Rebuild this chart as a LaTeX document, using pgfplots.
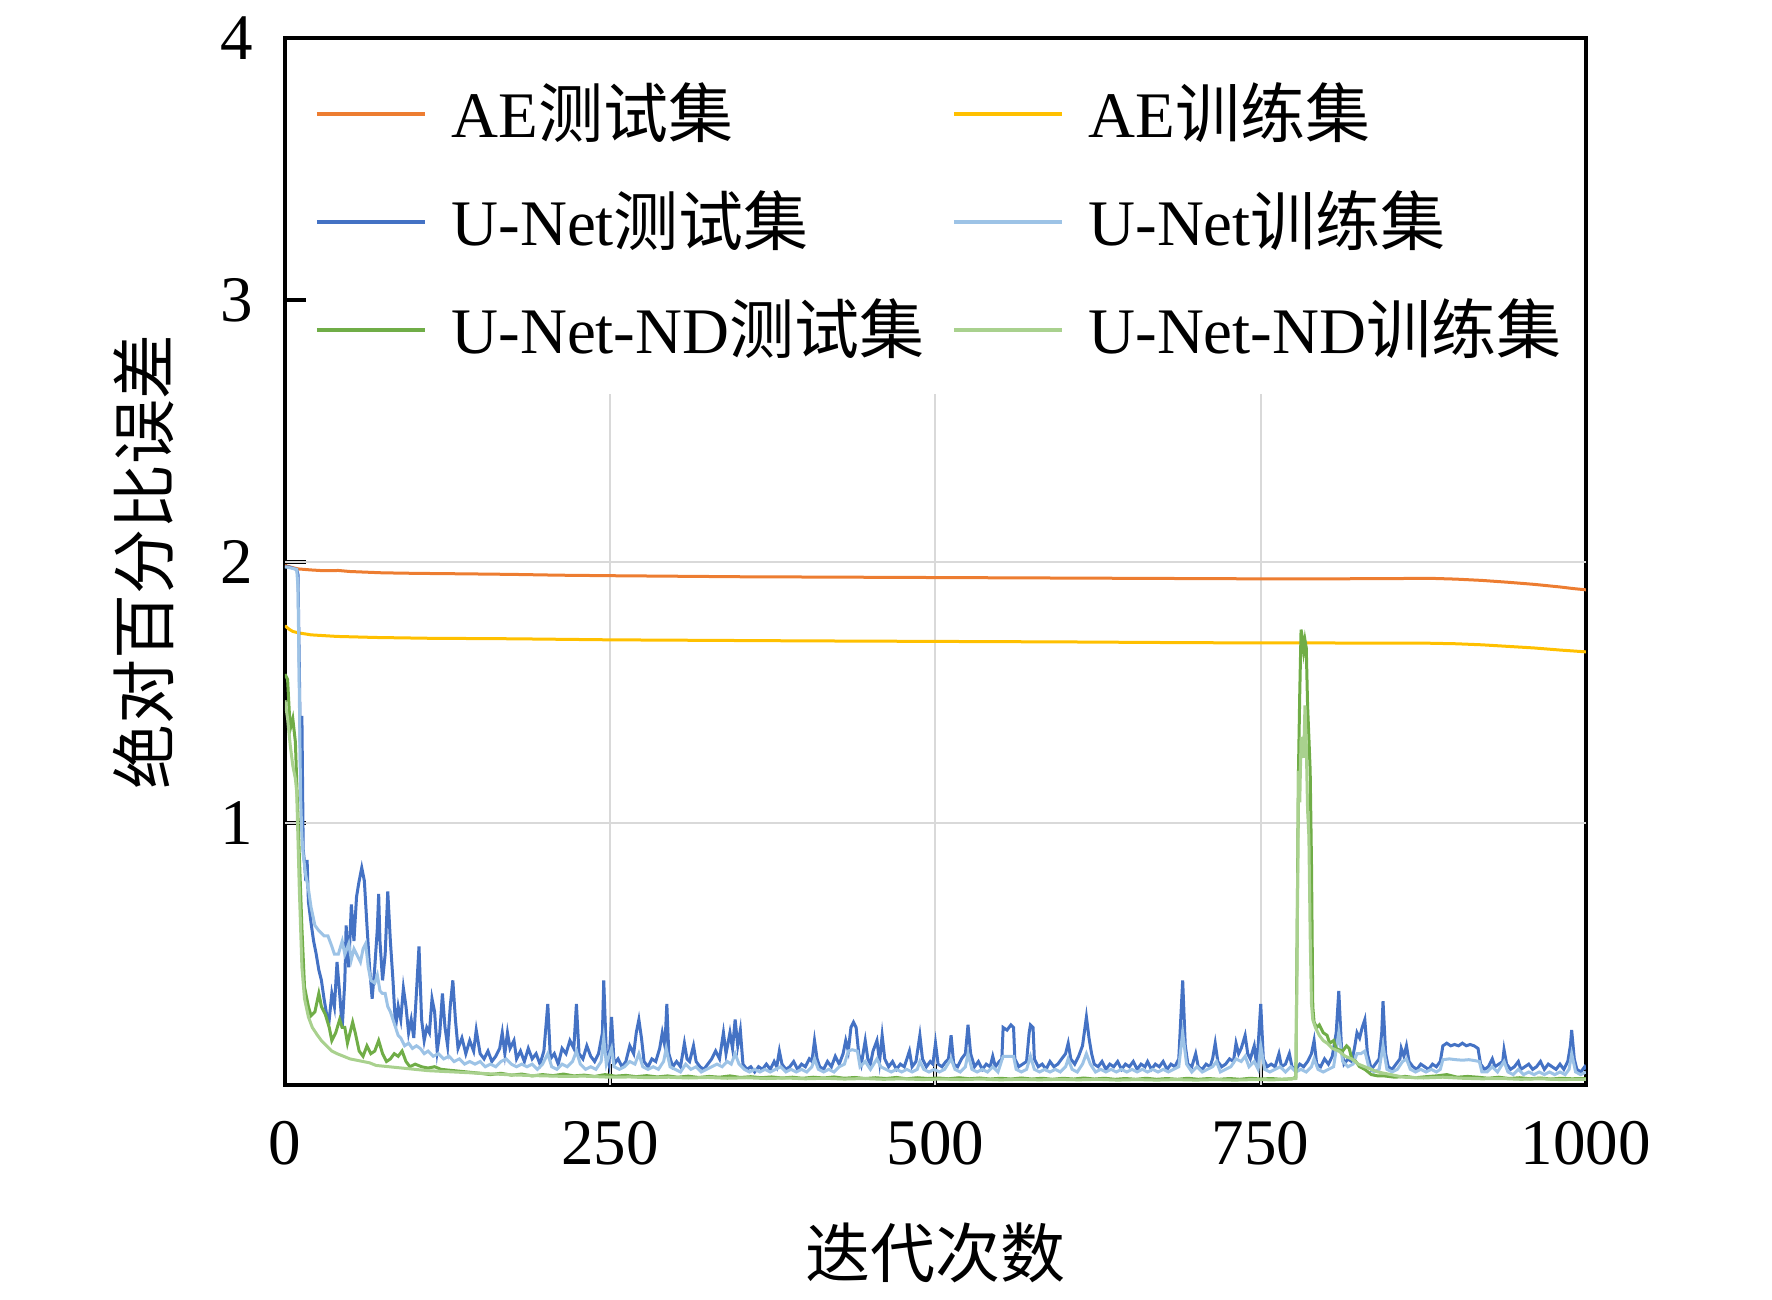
\documentclass[border=0pt]{standalone}
\usepackage{fontspec}
\setmainfont{Liberation Serif}
\newfontfamily\cjk{Noto Sans CJK SC}
\usepackage{pgfplots}
\pgfplotsset{compat=1.18}
\definecolor{cAEte}{HTML}{ED7D31}
\definecolor{cAEtr}{HTML}{FFC000}
\definecolor{cUte}{HTML}{4472C4}
\definecolor{cUtr}{HTML}{9DC3E6}
\definecolor{cNte}{HTML}{70AD47}
\definecolor{cNtr}{HTML}{A9D18E}
\definecolor{gridc}{HTML}{D9D9D9}
\newcommand\zh[1]{{\cjk #1}}
\begin{document}
\begin{tikzpicture}
\path (-57pt,-42.6pt) rectangle (297.4pt,216.4pt);
\begin{axis}[
  at={(0pt,0pt)}, anchor=south west,
  scale only axis, width=260.2pt, height=209.4pt,
  xmin=0, xmax=1000, ymin=0, ymax=4,
  xtick={0,250,500,750,1000}, ytick={1,2,3,4},
  tick align=inside, tick pos=left,
  major tick length=4.2pt,
  axis line style={line width=0.8pt},
  every tick/.style={black, line width=0.8pt},
  tick label style={font=\fontsize{13}{15}\selectfont},
  /pgf/number format/assume math mode=true,
  /pgf/number format/1000 sep={},
  xticklabel style={anchor=base, yshift=-15.8pt},
  yticklabel style={anchor=east, xshift=-2.9pt},
  xlabel={\zh{迭代次数}}, ylabel={\zh{绝对百分比误差}},
  label style={font=\fontsize{13}{15}\selectfont},
  xlabel style={at={(axis description cs:0.5,-0.1605)}, anchor=center},
  ylabel style={at={(axis description cs:-0.1084,0.5)}, anchor=center},
  legend columns=2, legend cell align=left,
  legend style={at={(axis description cs:0.0223,0.968)}, anchor=north west,
    draw=none, fill=none, inner sep=0pt, row sep=5.1pt,
    font=\fontsize{13}{15}\selectfont,
    /tikz/every odd column/.append style={column sep=2.9pt},
    /tikz/every even column/.append style={column sep=3.5pt}},
  legend image code/.code={\draw[#1, line width=0.8pt] (0pt,0pt) -- (21.6pt,0pt);},
  every axis plot/.append style={line width=0.6pt},
]
\draw[gridc, line width=0.4pt] (axis cs:0,1) -- (axis cs:1000,1);
\draw[gridc, line width=0.4pt] (axis cs:0,2) -- (axis cs:1000,2);
\draw[gridc, line width=0.4pt] (axis cs:250,0) -- (axis cs:250,2.64);
\draw[gridc, line width=0.4pt] (axis cs:500,0) -- (axis cs:500,2.64);
\draw[gridc, line width=0.4pt] (axis cs:750,0) -- (axis cs:750,2.64);

% AE test
\addplot[cAEte] coordinates {(0,1.985)(5,1.978)(10,1.972)(20,1.968)(30,1.965)(41,1.966)(50,1.962)(75,1.957)(100,1.955)(140,1.953)(175,1.951)(210,1.948)(250,1.946)(300,1.944)(350,1.942)(400,1.941)(450,1.940)(500,1.939)(550,1.938)(600,1.937)(650,1.936)(700,1.935)(750,1.934)(800,1.934)(850,1.935)(880,1.936)(900,1.933)(920,1.928)(940,1.921)(960,1.913)(980,1.903)(990,1.897)(1000,1.892)};
\addlegendentry{AE\zh{测试集}}
% AE train
\addplot[cAEtr] coordinates {(0,1.755)(3,1.742)(6,1.733)(10,1.728)(20,1.72)(40,1.714)(70,1.71)(110,1.707)(175,1.705)(250,1.701)(400,1.697)(500,1.695)(600,1.693)(700,1.690)(800,1.689)(880,1.688)(900,1.686)(920,1.682)(940,1.676)(960,1.670)(980,1.662)(1000,1.655)};
\addlegendentry{AE\zh{训练集}}
% U-Net test
\addplot[cUte] coordinates {(0,1.98)(3,1.98)(6,1.975)(9,1.97)(10,1.95)(11,1.6)(12,1.2)(13,1.41)(14,0.9)(15,0.85)(16,0.78)(17,0.86)(18,0.7)(20,0.62)(22,0.55)(24,0.5)(26,0.44)(28,0.40)(30,0.33)(32,0.27)(34,0.25)(36,0.35)(38,0.30)(40,0.47)(42,0.35)(44,0.22)(46,0.40)(47,0.61)(49,0.45)(51,0.69)(53,0.55)(55,0.72)(57,0.78)(59,0.83)(61,0.78)(63,0.61)(65,0.45)(67,0.33)(69,0.45)(71,0.60)(72,0.73)(73,0.55)(75,0.40)(77,0.50)(79,0.74)(81,0.55)(83,0.40)(85,0.22)(87,0.30)(89,0.25)(91,0.37)(93,0.30)(95,0.20)(97,0.25)(99,0.18)(101,0.35)(103,0.53)(105,0.25)(107,0.17)(109,0.22)(111,0.20)(113,0.33)(115,0.28)(117,0.13)(119,0.20)(121,0.35)(123,0.22)(125,0.15)(127,0.30)(129,0.40)(131,0.25)(133,0.14)(136,0.18)(139,0.12)(142,0.17)(145,0.13)(147,0.21)(150,0.12)(153,0.10)(156,0.13)(159,0.09)(162,0.11)(165,0.14)(167,0.20)(169,0.12)(171,0.20)(173,0.14)(176,0.17)(178,0.10)(181,0.13)(184,0.09)(187,0.14)(190,0.10)(193,0.12)(196,0.08)(199,0.13)(202,0.31)(204,0.10)(207,0.12)(210,0.08)(213,0.14)(216,0.12)(219,0.17)(222,0.14)(224,0.31)(226,0.12)(229,0.10)(232,0.15)(235,0.11)(238,0.09)(241,0.12)(244,0.20)(245,0.40)(247,0.12)(249,0.08)(251,0.26)(253,0.08)(256,0.10)(259,0.07)(262,0.09)(265,0.15)(268,0.12)(270,0.20)(272,0.25)(274,0.18)(276,0.09)(279,0.07)(282,0.10)(285,0.09)(288,0.14)(290,0.20)(292,0.15)(293.5,0.31)(295,0.12)(298,0.07)(301,0.09)(304,0.07)(307,0.16)(309,0.10)(311,0.09)(314,0.15)(316,0.09)(319,0.07)(322,0.06)(325,0.08)(328,0.10)(331,0.13)(334,0.10)(337,0.20)(339,0.12)(342,0.20)(344,0.14)(346,0.25)(348,0.15)(350,0.21)(352,0.08)(355,0.06)(358,0.07)(361,0.05)(364,0.07)(367,0.06)(370,0.08)(373,0.06)(376,0.09)(378,0.07)(380,0.13)(382,0.08)(385,0.06)(388,0.07)(391,0.09)(394,0.06)(397,0.08)(400,0.07)(403,0.10)(405,0.09)(407,0.17)(409,0.10)(411,0.07)(414,0.06)(417,0.09)(420,0.07)(423,0.11)(426,0.08)(429,0.12)(431,0.17)(433,0.13)(435,0.22)(437,0.24)(439,0.22)(441,0.12)(443,0.08)(446,0.17)(448,0.10)(450,0.08)(452,0.13)(455,0.17)(457,0.09)(459,0.19)(461,0.10)(464,0.07)(467,0.09)(470,0.06)(473,0.08)(476,0.07)(478,0.10)(480,0.13)(482,0.07)(485,0.09)(488,0.19)(490,0.10)(493,0.07)(496,0.09)(498,0.08)(500,0.16)(502,0.08)(505,0.07)(508,0.09)(510,0.10)(512,0.19)(514,0.08)(517,0.07)(520,0.10)(523,0.12)(525,0.23)(527,0.12)(530,0.07)(533,0.09)(536,0.06)(539,0.08)(542,0.07)(544,0.11)(546,0.07)(549,0.09)(551,0.10)(552,0.22)(555,0.21)(558,0.23)(560,0.22)(561,0.10)(564,0.07)(567,0.08)(570,0.09)(572,0.20)(573,0.23)(575,0.22)(576,0.10)(579,0.07)(582,0.08)(585,0.06)(588,0.09)(591,0.07)(594,0.08)(597,0.10)(600,0.12)(602,0.16)(604,0.10)(607,0.08)(610,0.11)(613,0.15)(616,0.26)(618,0.18)(620,0.12)(622,0.08)(625,0.07)(628,0.09)(631,0.06)(634,0.08)(637,0.07)(640,0.09)(643,0.06)(646,0.08)(649,0.07)(652,0.09)(655,0.06)(658,0.08)(661,0.07)(663,0.09)(666,0.06)(669,0.08)(672,0.07)(675,0.09)(678,0.06)(681,0.08)(684,0.07)(687,0.10)(690,0.40)(692,0.15)(694,0.08)(697,0.07)(700,0.12)(702,0.07)(705,0.06)(708,0.08)(711,0.07)(713,0.10)(715,0.16)(717,0.09)(720,0.07)(723,0.08)(726,0.10)(729,0.09)(731,0.16)(733,0.12)(735,0.14)(738,0.19)(740,0.12)(742,0.10)(745,0.15)(747,0.07)(750,0.31)(752,0.10)(755,0.07)(758,0.08)(761,0.07)(764,0.12)(766,0.07)(769,0.08)(772,0.12)(774,0.07)(777,0.06)(780,0.08)(783,0.07)(786,0.09)(789,0.12)(791,0.17)(793,0.08)(796,0.07)(799,0.10)(802,0.08)(805,0.11)(808,0.20)(810,0.36)(812,0.15)(814,0.08)(817,0.10)(820,0.09)(822,0.14)(824,0.20)(826,0.18)(828,0.22)(830,0.25)(832,0.12)(835,0.06)(838,0.08)(841,0.10)(843,0.20)(844,0.32)(846,0.12)(848,0.07)(851,0.06)(854,0.08)(857,0.10)(858,0.14)(860,0.11)(862,0.15)(864,0.09)(867,0.07)(870,0.06)(873,0.08)(876,0.07)(879,0.06)(882,0.08)(885,0.07)(888,0.09)(890,0.15)(893,0.16)(896,0.15)(899,0.155)(902,0.15)(905,0.16)(908,0.15)(911,0.155)(914,0.15)(917,0.14)(919,0.08)(922,0.06)(925,0.07)(928,0.10)(930,0.07)(933,0.08)(936,0.09)(937,0.135)(939,0.08)(942,0.06)(945,0.07)(948,0.09)(950,0.06)(953,0.07)(956,0.08)(959,0.06)(962,0.07)(965,0.09)(968,0.06)(971,0.08)(974,0.07)(977,0.06)(980,0.08)(983,0.06)(986,0.09)(988,0.15)(989,0.21)(991,0.10)(993,0.06)(996,0.05)(999,0.07)(1000,0.06)};
\addlegendentry{U-Net\zh{测试集}}
% U-Net train
\addplot[cUtr] coordinates {(0,1.98)(5,1.975)(9,1.97)(10,1.9)(11,1.5)(12,1.1)(13,0.95)(14,0.88)(16,0.80)(18,0.75)(20,0.68)(23,0.61)(26,0.59)(30,0.57)(33,0.57)(36,0.53)(38,0.50)(41,0.50)(44,0.55)(46,0.50)(49,0.54)(51,0.48)(53,0.52)(55,0.50)(58,0.47)(60,0.52)(62,0.54)(64,0.45)(66,0.40)(69,0.39)(71,0.42)(73,0.36)(75,0.35)(77,0.35)(79,0.30)(81,0.28)(83,0.25)(85,0.22)(87,0.19)(89,0.18)(92,0.15)(95,0.16)(98,0.14)(101,0.15)(104,0.14)(107,0.12)(110,0.13)(114,0.11)(118,0.12)(122,0.10)(126,0.11)(130,0.09)(134,0.10)(138,0.08)(142,0.09)(146,0.08)(150,0.09)(154,0.07)(158,0.08)(162,0.07)(166,0.09)(170,0.10)(174,0.08)(178,0.07)(182,0.08)(186,0.07)(190,0.08)(194,0.06)(198,0.08)(202,0.12)(205,0.07)(209,0.06)(213,0.08)(217,0.07)(221,0.09)(224,0.13)(227,0.08)(231,0.06)(235,0.07)(239,0.06)(243,0.09)(245,0.18)(247,0.08)(251,0.14)(253,0.07)(257,0.06)(261,0.07)(265,0.09)(269,0.08)(272,0.12)(275,0.07)(279,0.06)(283,0.07)(287,0.06)(291,0.09)(293,0.14)(296,0.07)(300,0.06)(304,0.05)(308,0.08)(312,0.06)(316,0.07)(320,0.05)(324,0.06)(328,0.07)(332,0.08)(336,0.07)(340,0.09)(343,0.08)(346,0.12)(349,0.08)(353,0.06)(357,0.05)(361,0.06)(365,0.05)(369,0.06)(373,0.05)(377,0.06)(381,0.07)(385,0.05)(389,0.06)(393,0.05)(397,0.06)(401,0.05)(405,0.07)(407,0.10)(410,0.06)(414,0.05)(418,0.06)(422,0.05)(426,0.07)(430,0.08)(433,0.13)(436,0.135)(440,0.13)(442,0.07)(446,0.09)(450,0.06)(455,0.10)(458,0.07)(462,0.06)(466,0.05)(470,0.06)(474,0.05)(478,0.06)(482,0.05)(486,0.06)(488,0.09)(491,0.06)(495,0.05)(499,0.06)(503,0.05)(507,0.06)(512,0.10)(515,0.06)(519,0.05)(523,0.07)(525,0.12)(528,0.06)(532,0.05)(536,0.06)(540,0.05)(544,0.07)(548,0.05)(552,0.11)(556,0.11)(560,0.11)(562,0.06)(566,0.05)(570,0.06)(573,0.11)(576,0.06)(580,0.05)(584,0.06)(588,0.05)(592,0.06)(596,0.05)(600,0.07)(602,0.10)(605,0.06)(609,0.05)(613,0.08)(616,0.12)(619,0.08)(623,0.05)(627,0.06)(631,0.05)(635,0.06)(639,0.05)(643,0.06)(647,0.05)(651,0.06)(655,0.05)(659,0.06)(663,0.05)(667,0.06)(671,0.05)(675,0.06)(679,0.05)(683,0.06)(687,0.07)(690,0.20)(693,0.08)(697,0.05)(701,0.07)(705,0.05)(709,0.06)(713,0.07)(716,0.09)(719,0.05)(723,0.06)(727,0.07)(731,0.10)(735,0.09)(738,0.11)(741,0.07)(745,0.09)(748,0.06)(750,0.15)(753,0.06)(757,0.05)(761,0.06)(765,0.07)(769,0.05)(773,0.07)(777,0.05)(781,0.06)(785,0.05)(789,0.07)(791,0.10)(794,0.06)(798,0.05)(802,0.06)(806,0.07)(810,0.20)(813,0.09)(817,0.07)(821,0.08)(824,0.12)(827,0.12)(830,0.13)(833,0.07)(837,0.05)(841,0.06)(844,0.15)(847,0.06)(851,0.05)(855,0.06)(859,0.09)(862,0.10)(865,0.06)(869,0.05)(873,0.06)(877,0.05)(881,0.06)(885,0.05)(888,0.06)(890,0.097)(895,0.10)(900,0.097)(905,0.095)(910,0.097)(915,0.093)(918,0.09)(920,0.05)(924,0.05)(928,0.07)(932,0.05)(937,0.09)(940,0.05)(944,0.04)(948,0.06)(952,0.04)(956,0.05)(960,0.04)(964,0.05)(968,0.04)(972,0.05)(976,0.04)(980,0.05)(984,0.04)(987,0.06)(989,0.12)(992,0.05)(996,0.04)(1000,0.05)};
\addlegendentry{U-Net\zh{训练集}}
% U-Net-ND test
\addplot[cNte] coordinates {(0,1.57)(2,1.55)(4,1.36)(6,1.40)(8,1.31)(9,1.16)(11,0.88)(13,0.6)(15,0.375)(18,0.30)(20,0.265)(23,0.28)(26,0.35)(28,0.30)(31,0.27)(34,0.22)(36,0.17)(39,0.20)(42,0.25)(44,0.22)(46,0.22)(48,0.16)(50,0.20)(52,0.24)(54,0.20)(57,0.13)(60,0.11)(63,0.15)(66,0.12)(69,0.13)(72,0.17)(75,0.12)(78,0.09)(81,0.10)(84,0.12)(87,0.11)(90,0.13)(93,0.09)(96,0.07)(100,0.08)(105,0.07)(110,0.065)(115,0.07)(120,0.06)(130,0.055)(140,0.05)(150,0.045)(158,0.04)(166,0.045)(174,0.038)(182,0.042)(190,0.035)(198,0.04)(206,0.036)(214,0.042)(222,0.035)(230,0.038)(238,0.033)(246,0.04)(254,0.034)(262,0.037)(270,0.032)(278,0.036)(286,0.031)(294,0.035)(302,0.03)(310,0.034)(318,0.029)(326,0.033)(334,0.03)(342,0.035)(350,0.029)(358,0.032)(366,0.028)(374,0.031)(382,0.027)(390,0.03)(398,0.026)(406,0.03)(414,0.027)(422,0.031)(430,0.026)(438,0.029)(446,0.025)(454,0.028)(462,0.025)(470,0.029)(478,0.024)(486,0.028)(494,0.025)(502,0.027)(510,0.024)(518,0.028)(526,0.024)(534,0.027)(542,0.023)(550,0.026)(558,0.023)(566,0.027)(574,0.023)(582,0.026)(590,0.022)(598,0.026)(606,0.023)(614,0.027)(622,0.023)(630,0.026)(638,0.022)(646,0.025)(654,0.022)(662,0.026)(670,0.022)(678,0.025)(686,0.022)(694,0.026)(702,0.022)(710,0.025)(718,0.022)(726,0.025)(734,0.022)(742,0.026)(750,0.023)(758,0.025)(766,0.022)(774,0.024)(777,0.03)(778,0.6)(779,1.2)(780,1.5)(781,1.74)(782,1.71)(783,1.66)(784,1.70)(785,1.67)(786,1.45)(787,1.33)(788,1.2)(789,0.85)(790,0.3)(791,0.24)(793,0.22)(795,0.23)(798,0.20)(801,0.19)(803,0.16)(806,0.17)(808,0.14)(810,0.135)(813,0.13)(816,0.15)(818,0.14)(820,0.10)(823,0.09)(826,0.07)(830,0.06)(835,0.04)(840,0.035)(845,0.035)(853,0.03)(861,0.033)(869,0.028)(877,0.032)(885,0.035)(893,0.04)(901,0.03)(909,0.033)(917,0.03)(925,0.026)(933,0.03)(941,0.025)(949,0.028)(957,0.024)(965,0.027)(973,0.023)(981,0.026)(989,0.024)(1000,0.025)};
\addlegendentry{U-Net-ND\zh{测试集}}
% U-Net-ND train
\addplot[cNtr] coordinates {(0,1.47)(2,1.40)(4,1.30)(6,1.22)(8,1.17)(9,1.12)(11,0.75)(13,0.45)(15,0.33)(18,0.26)(21,0.22)(25,0.19)(28,0.17)(32,0.15)(36,0.13)(40,0.12)(45,0.11)(50,0.10)(55,0.095)(60,0.09)(65,0.085)(70,0.075)(80,0.07)(90,0.065)(100,0.06)(110,0.055)(130,0.05)(150,0.045)(170,0.04)(185,0.037)(200,0.035)(215,0.033)(230,0.034)(250,0.03)(265,0.031)(280,0.028)(295,0.03)(310,0.027)(325,0.029)(340,0.026)(355,0.028)(370,0.025)(385,0.027)(400,0.024)(415,0.026)(430,0.023)(445,0.025)(460,0.022)(475,0.024)(490,0.021)(505,0.023)(520,0.021)(535,0.023)(550,0.02)(565,0.022)(580,0.02)(595,0.022)(610,0.02)(625,0.022)(640,0.019)(655,0.021)(670,0.019)(685,0.021)(700,0.019)(715,0.021)(730,0.019)(745,0.021)(760,0.02)(777,0.025)(778,0.5)(779,1.20)(780,1.08)(781,1.33)(782,1.30)(783,1.25)(784,1.45)(785,1.30)(786,1.05)(787,0.95)(788,0.57)(789,0.31)(790,0.25)(792,0.22)(795,0.19)(798,0.17)(801,0.16)(805,0.14)(810,0.13)(815,0.11)(820,0.10)(825,0.08)(830,0.07)(835,0.06)(840,0.05)(850,0.04)(860,0.03)(875,0.027)(890,0.03)(905,0.026)(920,0.024)(935,0.025)(950,0.022)(965,0.024)(980,0.021)(1000,0.022)};
\addlegendentry{U-Net-ND\zh{训练集}}
\end{axis}
\end{tikzpicture}
\end{document}
